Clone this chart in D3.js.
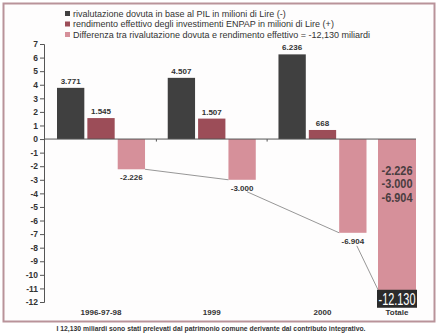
<!DOCTYPE html>
<html>
<head>
<meta charset="utf-8">
<script src="https://cdn.jsdelivr.net/npm/d3@7"></script>
<style>
  html, body { margin: 0; padding: 0; background: #ffffff; }
  svg { display: block; font-family: "Liberation Sans", Arial, Helvetica, sans-serif; }
</style>
</head>
<body>
<svg id="chart" width="442" height="334"></svg>
<script>
// Periods and the three series (values in milioni di Lire)
const periods = ["1996-97-98", "1999", "2000"];
const dovuta = [3.771, 4.507, 6.236];
const rendimento = [1.545, 1.507, 0.668];
const differenza = [-2.226, -3.000, -6.904];
const dovutaLabels = ["3.771", "4.507", "6.236"];
const rendimentoLabels = ["1.545", "1.507", "668"];
const differenzaLabels = ["-2.226", "-3.000", "-6.904"];

// Cumulative total column
const totaleCategory = "Totale";
const totaleValue = -12.130;
const totaleLabel = "-12.130";

const yTicks = [7, 6, 5, 4, 3, 2, 1, 0, -1, -2, -3, -4, -5, -6, -7, -8, -9, -10, -11, -12];

const legendLabels = [
  "rivalutazione dovuta in base al PIL in milioni di Lire (-)",
  "rendimento effettivo degli investimenti ENPAP in milioni di Lire (+)",
  "Differenza tra rivalutazione dovuta e rendimento effettivo = -12,130 miliardi"
];
const footerText = "I 12,130 miliardi sono stati prelevati dal patrimonio comune derivante dal contributo integrativo.";

const colors = ["#404040", "#9c4d58", "#d6909a"];
const textColor = "#333";

const svg = d3.select("#chart");

// Page background and frame
svg.append("rect").attr("x", 0).attr("y", 0).attr("width", 442).attr("height", 334).attr("fill", "#ffffff");
svg.append("rect")
  .attr("x", 3.5).attr("y", 3.5).attr("width", 431).attr("height", 318)
  .attr("fill", "#fefdfd").attr("stroke", "#b9939a").attr("stroke-width", 2);

// Scales
const y = d3.scaleLinear().domain([-12, 7]).range([302, 44]);
const x = d3.scaleBand().domain(periods).range([44, 379.5]).paddingInner(0.205).paddingOuter(0.1174);
const xs = d3.scaleBand().domain([0, 1, 2]).range([0, x.bandwidth()]).paddingInner(0.1);
const xt = d3.scaleBand().domain([totaleCategory]).range([378, 416]);

const seriesValues = [dovuta, rendimento, differenza];
const seriesLabels = [dovutaLabels, rendimentoLabels, differenzaLabels];

// Y axis with bracket-like outer ticks
const yAxis = svg.append("g")
  .attr("transform", "translate(44,0)")
  .call(d3.axisLeft(y).tickValues(yTicks).tickSize(4).tickSizeOuter(4).tickFormat(d => String(d)));
yAxis.select(".domain").attr("stroke", "#555").attr("stroke-width", 1);
yAxis.selectAll(".tick line").attr("stroke", "#555");
yAxis.selectAll(".tick text")
  .attr("fill", textColor).attr("font-size", 8.5).attr("font-weight", "bold").attr("x", -6)
  .style("font-family", "'Liberation Sans', Arial, sans-serif");

// Bars
const groups = svg.append("g").selectAll("g")
  .data(periods)
  .join("g")
  .attr("transform", d => `translate(${x(d)},0)`);

seriesValues.forEach((vals, s) => {
  groups.append("rect")
    .attr("x", xs(s))
    .attr("width", xs.bandwidth())
    .attr("y", (d, i) => y(Math.max(0, vals[i])))
    .attr("height", (d, i) => Math.abs(y(vals[i]) - y(0)))
    .attr("fill", colors[s]);

  groups.append("text")
    .attr("x", xs(s) + xs.bandwidth() / 2)
    .attr("y", (d, i) => vals[i] >= 0 ? y(vals[i]) - 4 : y(vals[i]) + 11)
    .attr("text-anchor", "middle")
    .attr("font-size", 8)
    .attr("font-weight", "bold")
    .attr("fill", textColor)
    .text((d, i) => seriesLabels[s][i]);
});

// Totale bar
const tx = xt(totaleCategory);
const tw = xt.bandwidth();
svg.append("rect")
  .attr("x", tx).attr("width", tw)
  .attr("y", y(0)).attr("height", y(totaleValue) - y(0))
  .attr("fill", colors[2]);

// Components of the total, stacked inside the bar (condensed)
svg.append("g").selectAll("text")
  .data(differenzaLabels)
  .join("text")
  .attr("x", tx + tw / 2)
  .attr("y", (d, i) => y(0) + 35.5 + i * 13.8)
  .attr("text-anchor", "middle")
  .attr("font-size", 12)
  .attr("font-weight", "bold")
  .attr("fill", "#4a3d40")
  .attr("textLength", 31)
  .attr("lengthAdjust", "spacingAndGlyphs")
  .text(d => d);

// Total value box
svg.append("rect")
  .attr("x", tx - 1).attr("width", tw + 2)
  .attr("y", y(totaleValue) - 14).attr("height", 18)
  .attr("fill", "#2b2b2b");
svg.append("text")
  .attr("x", tx + tw / 2)
  .attr("y", y(totaleValue) + 1.5)
  .attr("text-anchor", "middle")
  .attr("font-size", 16)
  .attr("fill", "#ffffff")
  .attr("textLength", 37)
  .attr("lengthAdjust", "spacingAndGlyphs")
  .text(totaleLabel);

// Zero line with small separators between columns
svg.append("line")
  .attr("x1", 44).attr("x2", tx + tw)
  .attr("y1", y(0)).attr("y2", y(0))
  .attr("stroke", "#555").attr("stroke-width", 1);
const gap = x.step() - x.bandwidth();
const seps = periods.slice(1).map(p => x(p) - gap / 2);
svg.append("g").selectAll("line")
  .data(seps)
  .join("line")
  .attr("x1", d => d).attr("x2", d => d)
  .attr("y1", y(0)).attr("y2", y(0) + 2.5)
  .attr("stroke", "#555");

// Connector lines between the differences and the total
const pinkX = p => x(p) + xs(2);
const connectors = [
  [pinkX(periods[0]) + xs.bandwidth(), y(differenza[0]), pinkX(periods[1]), y(differenza[1])],
  [pinkX(periods[1]) + xs.bandwidth() / 2 + 5, y(differenza[1]) + 12, pinkX(periods[2]), y(differenza[2])],
  [pinkX(periods[2]) + xs.bandwidth() / 2 + 4, y(differenza[2]) + 13, tx, y(totaleValue) - 14]
];
svg.append("g").selectAll("line")
  .data(connectors)
  .join("line")
  .attr("x1", d => d[0]).attr("y1", d => d[1])
  .attr("x2", d => d[2]).attr("y2", d => d[3])
  .attr("stroke", "#6a6a6a").attr("stroke-width", 0.7);

// Category labels
svg.append("g").selectAll("text")
  .data(periods)
  .join("text")
  .attr("x", d => x(d) + x.bandwidth() / 2)
  .attr("y", y(-12) + 13)
  .attr("text-anchor", "middle")
  .attr("font-size", 8)
  .attr("font-weight", "bold")
  .attr("fill", textColor)
  .text(d => d);
svg.append("text")
  .attr("x", tx + tw / 2)
  .attr("y", y(-12) + 13)
  .attr("text-anchor", "middle")
  .attr("font-size", 8)
  .attr("font-weight", "bold")
  .attr("fill", textColor)
  .text(totaleCategory);

// Legend
const legend = svg.append("g").selectAll("g")
  .data(legendLabels)
  .join("g")
  .attr("transform", (d, i) => `translate(65,${13.5 + i * 10.5})`);
legend.append("rect")
  .attr("x", 0).attr("y", -2.5).attr("width", 5).attr("height", 5)
  .attr("fill", (d, i) => colors[i]);
legend.append("text")
  .attr("x", 8).attr("y", 3.2)
  .attr("font-size", 9)
  .attr("fill", textColor)
  .text(d => d);

// Footnote below the frame
svg.append("text")
  .attr("x", 211).attr("y", 331)
  .attr("text-anchor", "middle")
  .attr("font-size", 7.5)
  .attr("font-weight", "bold")
  .attr("fill", textColor)
  .attr("textLength", 309)
  .attr("lengthAdjust", "spacingAndGlyphs")
  .text(footerText);
</script>
</body>
</html>
